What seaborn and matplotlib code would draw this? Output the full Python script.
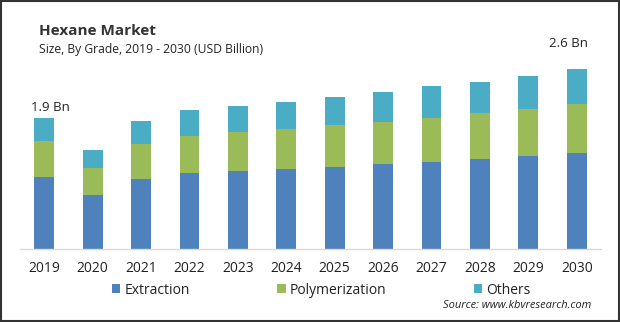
import matplotlib
matplotlib.use("Agg")
import matplotlib.pyplot as plt
from matplotlib.patches import Patch, Rectangle
import numpy as np
import pandas as pd
import seaborn as sns

years = ["2019", "2020", "2021", "2022", "2023", "2024",
         "2025", "2026", "2027", "2028", "2029", "2030"]
extraction = [1.04, 0.78, 1.01, 1.10, 1.13, 1.16, 1.18, 1.23, 1.26, 1.30, 1.34, 1.39]
polymerization = [0.52, 0.39, 0.51, 0.53, 0.56, 0.58, 0.61, 0.61, 0.64, 0.66, 0.68, 0.71]
others = [0.33, 0.26, 0.33, 0.38, 0.38, 0.39, 0.40, 0.43, 0.45, 0.45, 0.48, 0.50]
series_names = ["Extraction", "Polymerization", "Others"]
series_colors = ["#4F81BD", "#9BBB59", "#4BACC6"]
total_labels = {"2019": "1.9 Bn", "2030": "2.6 Bn"}

sns.set_theme(style="white")
plt.rcParams["font.family"] = ["Open Sans", "DejaVu Sans"]

df = pd.DataFrame({
    "year": years,
    "Extraction": extraction,
    "Polymerization": polymerization,
    "Others": others,
})
# cumulative heights for stacking (draw tallest first)
df["lvl1"] = df["Extraction"]
df["lvl2"] = df["lvl1"] + df["Polymerization"]
df["lvl3"] = df["lvl2"] + df["Others"]

fig = plt.figure(figsize=(6.2, 3.22), dpi=100)
ax = fig.add_axes([20 / 620, 73 / 322, 581 / 620, 207.6 / 322])

for col, color in zip(["lvl3", "lvl2", "lvl1"], series_colors[::-1]):
    sns.barplot(data=df, x="year", y=col, color=color, saturation=1,
                width=0.41, linewidth=0, ax=ax)

ax.set_xlim(-0.5, 11.5)
ax.set_ylim(0, 3.0)
ax.set_xlabel("")
ax.set_ylabel("")
ax.set_yticks([])
for s in ["top", "right", "left"]:
    ax.spines[s].set_visible(False)
ax.spines["bottom"].set_color("#d9d9d9")
ax.spines["bottom"].set_linewidth(1.0)
ax.tick_params(axis="x", length=0, pad=9, labelsize=10, labelcolor="#222222")

# value labels over first and last bar
offsets = {"2019": (6, 7), "2030": (-8, 22)}
for i, y in enumerate(years):
    if y in total_labels:
        ax.annotate(total_labels[y], xy=(i, df["lvl3"][i]),
                    xytext=offsets[y], textcoords="offset pixels",
                    ha="center", va="baseline", fontsize=9.5,
                    color="#222222", annotation_clip=False)

fig.text(39 / 620, 1 - 35 / 322, "Hexane Market", fontsize=11,
         fontweight="bold", color="#333333", va="baseline", ha="left")
fig.text(39 / 620, 1 - 53 / 322, "Size, By Grade, 2019 - 2030 (USD Billion)",
         fontsize=8.7, color="#222222", va="baseline", ha="left")

handles = [Patch(facecolor=c, edgecolor="none", label=n)
           for n, c in zip(series_names, series_colors)]
fig.legend(handles=handles, ncol=3, loc="center left",
           bbox_to_anchor=(112 / 620, 1 - 290 / 322), frameon=False,
           fontsize=10, handlelength=0.6, handleheight=0.6,
           handletextpad=0.3, columnspacing=6.3, borderpad=0,
           borderaxespad=0, labelcolor="#222222")

fig.text(591 / 620, 1 - 306 / 322, "Source: www.kbvresearch.com",
         fontsize=8, style="italic", color="#222222", ha="right", va="center")

fig.add_artist(Rectangle((0.001, 0.002), 0.997, 0.996, transform=fig.transFigure,
                         fill=False, edgecolor="#333333", linewidth=1.5))

fig.savefig("out.png", dpi=100)
